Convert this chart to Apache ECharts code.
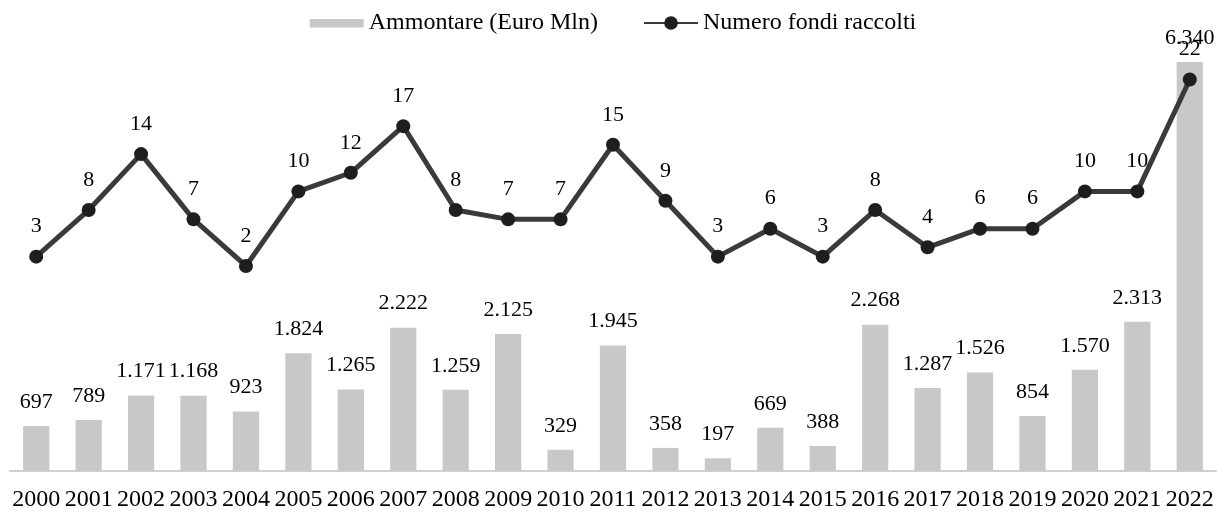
<!DOCTYPE html>
<html lang="it">
<head>
<meta charset="UTF-8">
<title>Raccolta fondi</title>
<script src="https://cdn.jsdelivr.net/npm/echarts@6/dist/echarts.min.js"></script>
<style>
  html, body { margin: 0; padding: 0; background: #fff; }
  #main { width: 1226px; height: 512px; }
</style>
</head>
<body>
<div id="main"></div>
<script>
var years = ['2000','2001','2002','2003','2004','2005','2006','2007','2008','2009','2010','2011',
             '2012','2013','2014','2015','2016','2017','2018','2019','2020','2021','2022'];
// Ammontare (Euro Mln)
var amounts = [697, 789, 1171, 1168, 923, 1824, 1265, 2222, 1259, 2125, 329, 1945,
               358, 197, 669, 388, 2268, 1287, 1526, 854, 1570, 2313, 6340];
// Numero fondi raccolti
var funds = [3, 8, 14, 7, 2, 10, 12, 17, 8, 7, 7, 15, 9, 3, 6, 3, 8, 4, 6, 6, 10, 10, 22];

// separatore delle migliaia all'italiana
function fmt(v) {
  return String(v).replace(/\B(?=(\d{3})+(?!\d))/g, '.');
}

var font = '"Liberation Serif", "Times New Roman", serif';
var chart = echarts.init(document.getElementById('main'));

chart.setOption({
  animation: false,
  textStyle: { fontFamily: font, color: '#000' },
  legend: {
    top: 6,
    left: 'center',
    itemWidth: 54,
    itemHeight: 17,
    itemGap: 45,
    textStyle: { fontFamily: font, fontSize: 24, color: '#000' },
    data: [
      // rettangolo sottile: le righe quasi nulle in alto e in basso tengono l'altezza del box
      { name: 'Ammontare (Euro Mln)', icon: 'path://M0,0h54v0.01h-54zM0,4.5h54v8.5h-54zM0,17h54v-0.01h-54z' },
      { name: 'Numero fondi raccolti' }
    ]
  },
  grid: { left: 10, right: 10, top: 5, bottom: 41, containLabel: false },
  xAxis: {
    type: 'category',
    data: years,
    axisTick: { show: false },
    axisLine: { lineStyle: { color: '#d0d0d0', width: 2 } },
    axisLabel: { fontFamily: font, fontSize: 24, color: '#000', margin: 17, interval: 0 }
  },
  yAxis: [
    { type: 'value', min: 0, max: 7224, show: false, splitLine: { show: false } },
    { type: 'value', min: -20, max: 30, show: false, splitLine: { show: false } }
  ],
  series: [
    {
      name: 'Ammontare (Euro Mln)',
      type: 'bar',
      data: amounts,
      barCategoryGap: '50%',
      itemStyle: { color: '#c8c8c8' },
      label: {
        show: true,
        position: 'top',
        distance: 13,
        fontFamily: font,
        fontSize: 22,
        color: '#000',
        formatter: function (p) { return fmt(p.value); }
      }
    },
    {
      name: 'Numero fondi raccolti',
      type: 'line',
      yAxisIndex: 1,
      data: funds,
      symbol: 'circle',
      symbolSize: 14,
      lineStyle: { color: '#3a3a3a', width: 5 },
      itemStyle: { color: '#1e1e1e' },
      label: {
        show: true,
        position: 'top',
        distance: 12,
        fontFamily: font,
        fontSize: 22,
        color: '#000'
      },
      z: 3
    }
  ]
});
</script>
</body>
</html>
